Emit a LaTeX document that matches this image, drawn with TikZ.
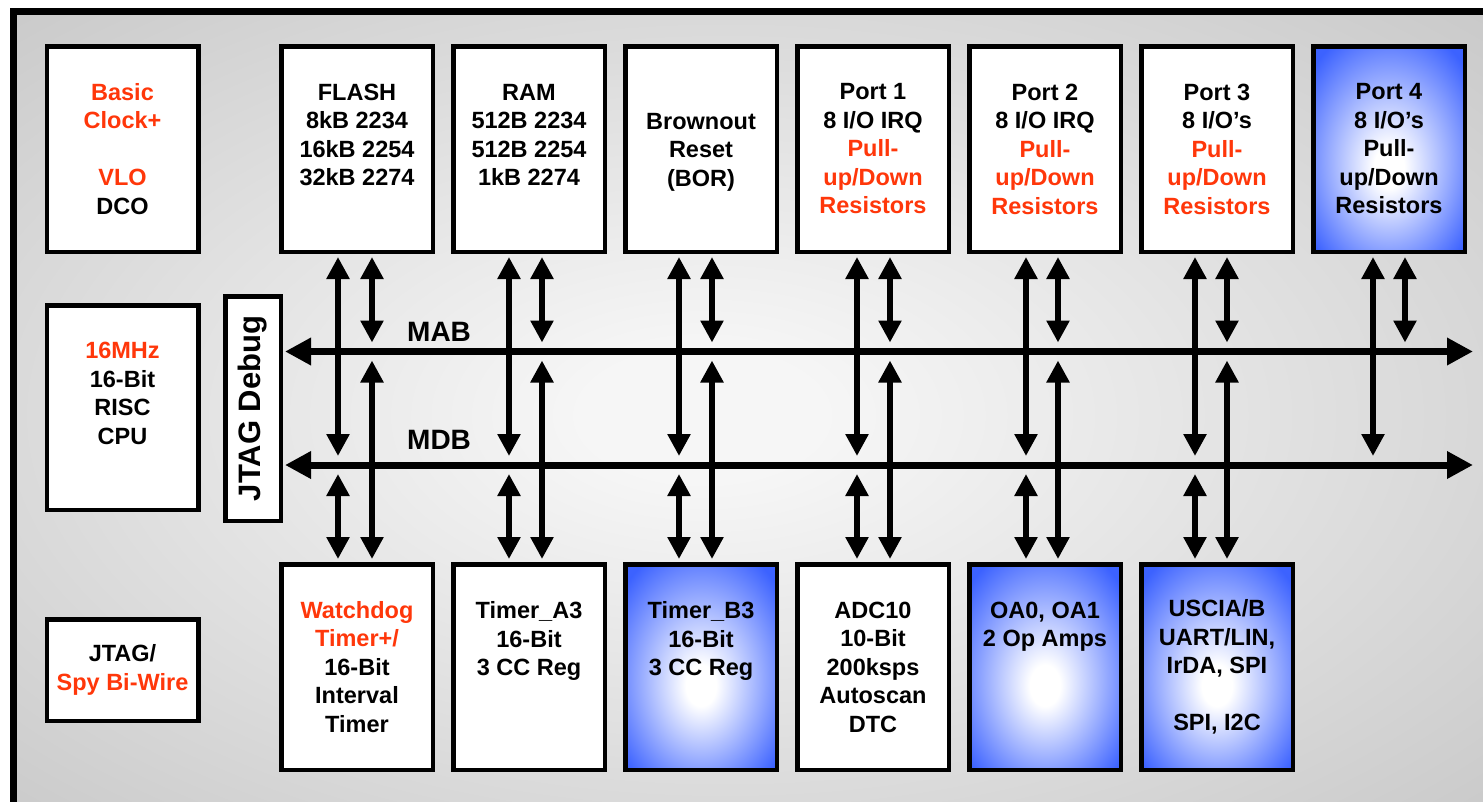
\documentclass[tikz,border=0pt]{standalone}
\usepackage{fontspec}
\setmainfont{Liberation Sans}
\usepackage{graphicx}
\usetikzlibrary{arrows.meta,positioning}
\definecolor{hotred}{RGB}{255,55,10}
\definecolor{boxblue}{RGB}{60,98,255}
\colorlet{boxlight}{boxblue!50}
\definecolor{bgin}{RGB}{246,246,246}
\definecolor{bgmid}{RGB}{198,198,198}
\definecolor{bgout}{RGB}{188,188,188}
\pgfdeclareradialshading{bggrad}{\pgfpoint{-2bp}{0bp}}{color(0bp)=(bgin); color(4bp)=(bgin); color(38bp)=(bgmid); color(50bp)=(bgout)}
\pgfdeclareradialshading{bluegrad}{\pgfpoint{0bp}{-5bp}}{color(0bp)=(white); color(5bp)=(white); color(19bp)=(boxlight); color(33bp)=(boxblue); color(50bp)=(boxblue)}
\newcommand{\hot}[1]{\textcolor{hotred}{#1}}
\newcommand{\blankln}{\rule{0pt}{17pt}}
\tikzset{
  blk/.style={draw, line width=4.5pt, fill=white, minimum width=151.5pt, minimum height=205.5pt,
    align=center, inner sep=0pt, font=\fontsize{23.5}{28.5}\selectfont\bfseries},
  bluebk/.style={blk, shade, shading=bluegrad},
  link/.style={line width=5.5pt, {Triangle[length=22pt,width=22pt]}-{Triangle[length=22pt,width=22pt]},
    shorten <=3pt, shorten >=9pt},
  bus/.style={line width=7pt, {Triangle[length=26pt,width=26pt]}-{Triangle[length=26pt,width=26pt]}},
  buslbl/.style={inner sep=0pt, font=\fontsize{28}{34}\selectfont\bfseries}
}

\begin{document}
\begin{tikzpicture}[x=1pt, y=-1pt]
  \useasboundingbox (0,0) rectangle (1483,801);
  \fill[white] (0,0) rectangle (1483,801);
  % chip outline
  \begin{scope}
    \clip (0,0) rectangle (1483,801);
    \shade[shading=bggrad] (13,11) rectangle (1500,820);
    \draw[line width=7pt] (13,11) rectangle (1500,820);
  \end{scope}

  % left column
  \node[blk] (clock) at (122.5,149) {\hot{Basic}\\\hot{Clock+}\\\blankln\\\hot{VLO}\\DCO};
  \node[blk, minimum height=204.5pt] (cpu) at (122.5,407.5) {\hot{16MHz}\\16-Bit\\RISC\\CPU\\\blankln};
  \node[blk, minimum height=101.5pt] (sbw) at (122.5,670) {JTAG/\\\hot{Spy Bi-Wire}};
  \node[draw, line width=4.5pt, fill=white, minimum width=55.5pt, minimum height=224.5pt, inner sep=0pt,
    font=\fontsize{31}{36}\selectfont\bfseries] (jtag) at (253,408.5) {\rotatebox{90}{JTAG Debug}};

  % top row
  \node[blk] (flash) at (357,149) {FLASH\\8kB 2234\\16kB 2254\\32kB 2274\\\blankln};
  \node[blk, right=16pt of flash] (ram) {RAM\\512B 2234\\512B 2254\\1kB 2274\\\blankln};
  \node[blk, right=16pt of ram] (bor) {\blankln\\Brownout\\Reset\\(BOR)\\\blankln};
  \node[blk, right=16pt of bor] (port1) {Port 1\\8 I/O IRQ\\\hot{Pull-}\\\hot{up/Down}\\\hot{Resistors}};
  \node[blk, right=16pt of port1] (port2) {Port 2\\8 I/O IRQ\\\hot{Pull-}\\\hot{up/Down}\\\hot{Resistors}};
  \node[blk, right=16pt of port2] (port3) {Port 3\\8 I/O's\\\hot{Pull-}\\\hot{up/Down}\\\hot{Resistors}};
  \node[bluebk, right=16pt of port3] (port4) {Port 4\\8 I/O's\\Pull-\\up/Down\\Resistors};

  % bottom row
  \node[blk] (wdt) at (357,667) {\hot{Watchdog}\\\hot{Timer+/}\\16-Bit\\Interval\\Timer};
  \node[blk, right=16pt of wdt] (ta3) {Timer\_A3\\16-Bit\\3 CC Reg\\\blankln\\\blankln};
  \node[bluebk, right=16pt of ta3] (tb3) {Timer\_B3\\16-Bit\\3 CC Reg\\\blankln\\\blankln};
  \node[blk, right=16pt of tb3] (adc) {ADC10\\10-Bit\\200ksps\\Autoscan\\DTC};
  \node[bluebk, right=16pt of adc] (oa) {OA0, OA1\\2 Op Amps\\\blankln\\\blankln\\\blankln};
  \node[bluebk, right=16pt of oa] (usci) {USCIA/B\\UART/LIN,\\IrDA, SPI\\\blankln\\SPI, I2C};

  % buses
  \coordinate (mabR) at (1473,351.5);
  \coordinate (mdbR) at (1473,465);
  \draw[bus, shorten <=2pt] (jtag.east |- mabR) -- (mabR);
  \draw[bus, shorten <=2pt] (jtag.east |- mdbR) -- (mdbR);
  \node[buslbl, anchor=base west] (mablbl) at (407,341.5) {MAB};
  \node[buslbl, anchor=base west] (mdblbl) at (407,449) {MDB};

  % links to the buses
  \foreach \n/\l/\r in {flash/338/372, ram/509/542, bor/679/712, port1/857/890,
                        port2/1026/1058, port3/1195/1227, port4/1373/1405}{
    \draw[link] (\l,0 |- \n.south) -- (\l,0 |- mdbR);
    \draw[link] (\r,0 |- \n.south) -- (\r,0 |- mabR);
  }
  \foreach \n/\l/\r in {wdt/338/372, ta3/509/542, tb3/679/712, adc/857/890,
                        oa/1026/1058, usci/1195/1227}{
    \draw[link] (\l,0 |- \n.north) -- (\l,0 |- mdbR);
    \draw[link] (\r,0 |- \n.north) -- (\r,0 |- mabR);
  }
\end{tikzpicture}
\end{document}
